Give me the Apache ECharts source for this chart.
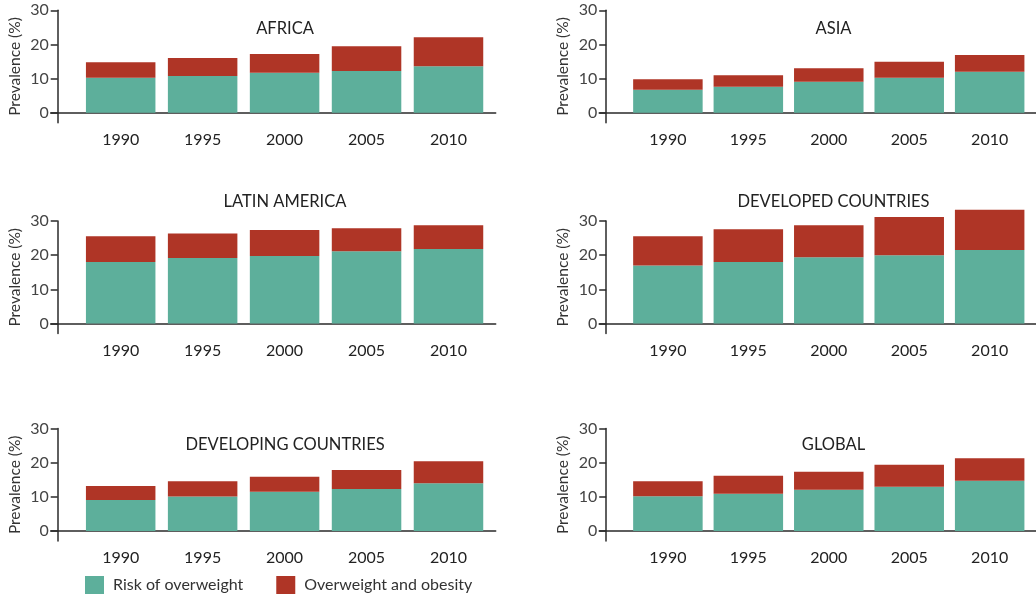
<!DOCTYPE html>
<html>
<head>
<meta charset="utf-8">
<script src="https://cdn.jsdelivr.net/npm/echarts@6/dist/echarts.min.js"></script>
<style>
html,body{margin:0;padding:0;background:#fff;}
#chart{width:1036px;height:601px;}
</style>
</head>
<body>
<div id="chart"></div>
<script>
// ---- Data ----
const years = [1990, 1995, 2000, 2005, 2010];
const panelNames = ['AFRICA', 'ASIA', 'LATIN AMERICA', 'DEVELOPED COUNTRIES', 'DEVELOPING COUNTRIES', 'GLOBAL'];
const seriesNames = ['Risk of overweight', 'Overweight and obesity'];
const yTickValues = [0, 10, 20, 30];

const africaRisk      = [10.25, 10.75, 11.7, 12.2, 13.6];
const africaObese     = [4.55, 5.25, 5.5, 7.3, 8.5];
const asiaRisk        = [6.75, 7.6, 9.1, 10.25, 12.0];
const asiaObese       = [3.05, 3.35, 3.9, 4.7, 4.9];
const latinRisk       = [18.0, 19.2, 19.8, 21.2, 21.8];
const latinObese      = [7.6, 7.2, 7.6, 6.7, 7.0];
const developedRisk   = [17.0, 18.0, 19.4, 20.0, 21.5];
const developedObese  = [8.6, 9.6, 9.4, 11.2, 11.8];
const developingRisk  = [9.1, 10.1, 11.5, 12.3, 14.0];
const developingObese = [4.1, 4.5, 4.4, 5.55, 6.4];
const globalRisk      = [10.2, 10.9, 12.1, 13.0, 14.7];
const globalObese     = [4.4, 5.3, 5.25, 6.4, 6.6];

const riskData  = [africaRisk, asiaRisk, latinRisk, developedRisk, developingRisk, globalRisk];
const obeseData = [africaObese, asiaObese, latinObese, developedObese, developingObese, globalObese];

// ---- Layout / style ----
const FONT = 'Lato, "Open Sans", sans-serif';
const GREEN = '#5DAF9B';
const RED = '#AF3526';
const AXIS = '#2a2a2a';
const colLeft = [50.7, 599.2];
const rowZero = [112.7, 323.5, 531];
const titleY = [29, 202, 445];
const pxPerUnit = 3.413;
const yMax = 30;
const belowZeroPx = 10;
const yMin = -belowZeroPx / pxPerUnit;
const xMin = 1985.73, xMax = 2012.88;
const gridWidth = 445;

const grids = [], xAxes = [], yAxes = [], series = [], graphics = [];
for (let i = 0; i < 6; i++) {
  const col = i % 2, row = Math.floor(i / 2);
  const zero = rowZero[row];
  const top = zero - yMax * pxPerUnit;
  grids.push({ left: colLeft[col], top: top, width: gridWidth, height: yMax * pxPerUnit + belowZeroPx });
  xAxes.push({
    type: 'value', gridIndex: i, min: xMin, max: xMax,
    axisLine: { show: true, onZero: true, lineStyle: { color: AXIS, width: 1.5 } },
    axisTick: { show: false },
    splitLine: { show: false },
    axisLabel: { customValues: years, formatter: v => String(v), color: '#222', fontFamily: FONT, fontSize: 16, margin: 9 }
  });
  yAxes.push({
    type: 'value', gridIndex: i, min: yMin, max: yMax, offset: -7,
    name: 'Prevalence (%)', nameLocation: 'middle', nameGap: 35, nameRotate: 90,
    nameTextStyle: { color: '#333', fontFamily: FONT, fontSize: 15.5 },
    axisLine: { show: true, onZero: false, lineStyle: { color: AXIS, width: 1.5 } },
    axisTick: { show: true, inside: false, length: 7, customValues: yTickValues, lineStyle: { color: AXIS, width: 1.5 } },
    splitLine: { show: false },
    axisLabel: { customValues: yTickValues, color: '#444', fontFamily: FONT, fontSize: 16, margin: 9 }
  });
  // value first, year second: the stacked dimension is the value (y) dimension
  series.push({
    type: 'bar', name: seriesNames[0], stack: 'p' + i, xAxisIndex: i, yAxisIndex: i, clip: false,
    barWidth: 69.5, itemStyle: { color: GREEN }, encode: { x: 1, y: 0 },
    data: years.map((y, k) => [riskData[i][k], y])
  });
  series.push({
    type: 'bar', name: seriesNames[1], stack: 'p' + i, xAxisIndex: i, yAxisIndex: i, clip: false,
    barWidth: 69.5, itemStyle: { color: RED }, encode: { x: 1, y: 0 },
    data: years.map((y, k) => [obeseData[i][k], y])
  });
  graphics.push({
    type: 'text', x: colLeft[col] + 234.3, y: titleY[row],
    style: { text: panelNames[i], fill: '#222', font: '16.5px ' + FONT, textAlign: 'center', textVerticalAlign: 'middle' }
  });
}

const chart = echarts.init(document.getElementById('chart'), null, { renderer: 'canvas' });
chart.setOption({
  animation: false,
  backgroundColor: '#fff',
  grid: grids,
  xAxis: xAxes,
  yAxis: yAxes,
  series: series,
  graphic: graphics,
  legend: {
    data: seriesNames, left: 85, top: 576, padding: 0, itemWidth: 19, itemHeight: 18, itemGap: 33,
    icon: 'rect',
    textStyle: { color: '#333', fontFamily: FONT, fontSize: 16, padding: [0, 0, 0, 4] }
  }
});
</script>
</body>
</html>
